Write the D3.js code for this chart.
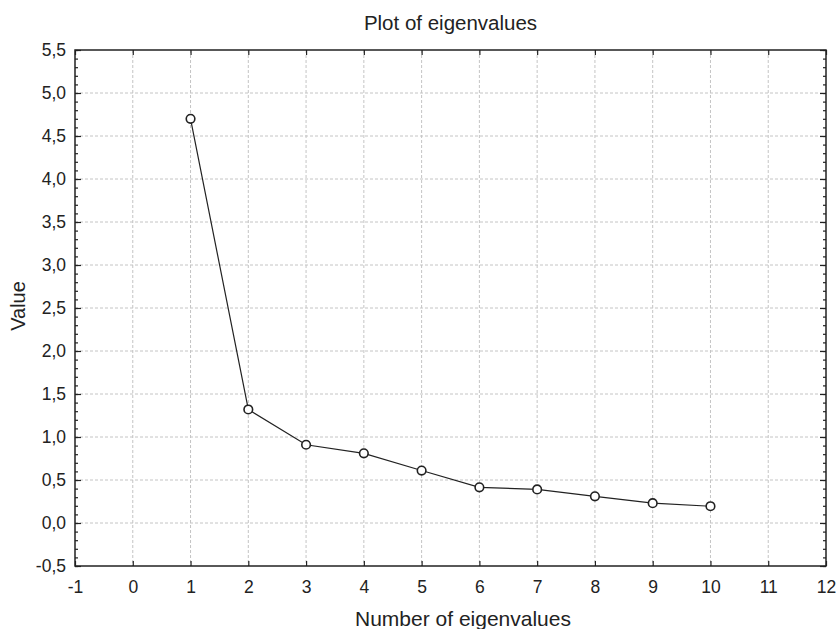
<!DOCTYPE html>
<html><head><meta charset="utf-8">
<script src="https://cdn.jsdelivr.net/npm/d3@7"></script>
<style>body{margin:0;background:#fff}svg{display:block}text{font-family:"Liberation Sans",Arial,sans-serif;fill:#222}</style>
</head><body><svg id="c" width="837" height="629"></svg>
<script>
const components = [1,2,3,4,5,6,7,8,9,10];
const eigenvalues = [4.70,1.32,0.91,0.81,0.61,0.415,0.39,0.31,0.23,0.195];
const xTicks = [-1,0,1,2,3,4,5,6,7,8,9,10,11,12];
const yTicks = [-0.5,0,0.5,1,1.5,2,2.5,3,3.5,4,4.5,5,5.5];
const title = "Plot of eigenvalues";
const xTitle = "Number of eigenvalues";
const yTitle = "Value";

const L=75,R=826,T=50,B=566;
const svg=d3.select("#c");
const x=d3.scaleLinear().domain([-1,12]).range([L,R]);
const y=d3.scaleLinear().domain([-0.5,5.5]).range([B,T]);
const fmt=v=>d3.format(".1f")(v).replace(".",",").replace("−","-");

// grid
const g=svg.append("g");
g.selectAll("line.gx").data(xTicks.filter(v=>v>-1&&v<12)).join("line")
 .attr("x1",d=>x(d)).attr("x2",d=>x(d)).attr("y1",T).attr("y2",B)
 .attr("stroke","#c4c4c4").attr("stroke-dasharray","3,2").attr("stroke-width",1);
g.selectAll("line.gy").data(yTicks.filter(v=>v>-0.5&&v<5.5)).join("line")
 .attr("y1",d=>y(d)).attr("y2",d=>y(d)).attr("x1",L).attr("x2",R)
 .attr("stroke","#c4c4c4").attr("stroke-dasharray","3,2").attr("stroke-width",1);

// axes
const minorY=d3.range(-5,56).map(i=>i/10);
function styleAx(sel){sel.select(".domain").remove();sel.selectAll("line").attr("stroke","#222").attr("stroke-width",1.2);}
svg.append("g").attr("transform",`translate(${L},0)`).call(d3.axisLeft(y).tickValues(minorY).tickSize(-3).tickFormat("")).call(styleAx);
svg.append("g").attr("transform",`translate(${L},0)`).call(d3.axisLeft(y).tickValues(yTicks).tickSize(-6).tickPadding(9).tickFormat(fmt))
 .call(styleAx).selectAll("text").attr("font-size",17.5).attr("fill","#222").attr("font-family","Liberation Sans, Arial, sans-serif");
svg.append("g").attr("transform",`translate(${R},0)`).call(d3.axisRight(y).tickValues(minorY).tickSize(-3).tickFormat("")).call(styleAx);
svg.append("g").attr("transform",`translate(${R},0)`).call(d3.axisRight(y).tickValues(yTicks).tickSize(-6).tickFormat("")).call(styleAx);
svg.append("g").attr("transform",`translate(0,${B})`).call(d3.axisBottom(x).tickValues(xTicks).tickSize(-5).tickPadding(15).tickFormat(v=>String(v).replace("−","-")))
 .call(styleAx).selectAll("text").attr("font-size",17.5).attr("fill","#222").attr("font-family","Liberation Sans, Arial, sans-serif");
svg.append("g").attr("transform",`translate(0,${T})`).call(d3.axisTop(x).tickValues(xTicks).tickSize(-5).tickFormat("")).call(styleAx);

svg.append("rect").attr("x",L).attr("y",T).attr("width",R-L).attr("height",B-T).attr("fill","none").attr("stroke","#222").attr("stroke-width",1.5);

// line
const pts=components.map((c,i)=>[c,eigenvalues[i]]);
svg.append("path").datum(pts).attr("fill","none").attr("stroke","#222").attr("stroke-width",1.2)
 .attr("d",d3.line().x(d=>x(d[0])).y(d=>y(d[1])));
svg.selectAll("circle").data(pts).join("circle").attr("cx",d=>x(d[0])).attr("cy",d=>y(d[1])).attr("r",4.3)
 .attr("fill","#fff").attr("stroke","#222").attr("stroke-width",1.6);

svg.append("text").attr("x",(L+R)/2).attr("y",30).attr("text-anchor","middle").attr("font-size",20.5).text(title);
svg.append("text").attr("x",463).attr("y",626).attr("text-anchor","middle").attr("font-size",21).text(xTitle);
svg.append("text").attr("transform",`translate(25,306) rotate(-90)`).attr("text-anchor","middle").attr("font-size",20).text(yTitle);
</script></body></html>
